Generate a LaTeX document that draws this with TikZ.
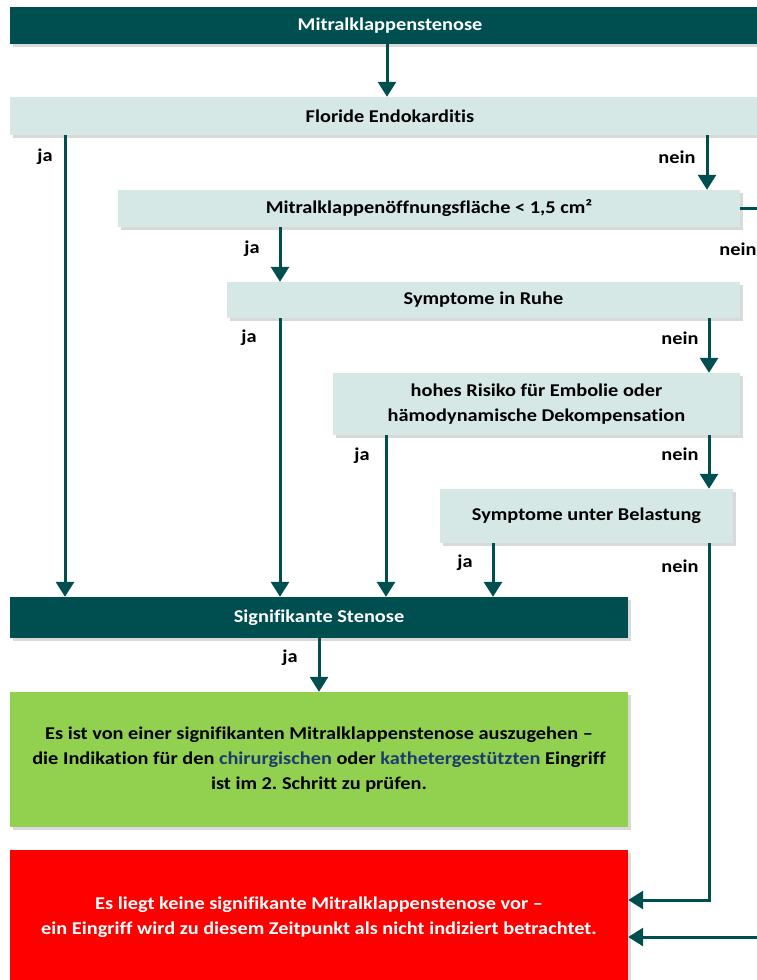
\documentclass[tikz,border=0pt]{standalone}
\usepackage{fontspec}
\setmainfont{Carlito}[FakeStretch=1.13, Ligatures=NoCommon]
\usetikzlibrary{positioning}
\usetikzlibrary{arrows.meta}
\usetikzlibrary{shadows}
\definecolor{dunkelgruen}{HTML}{004F50}
\definecolor{hellgrau}{HTML}{D5E8E6}
\definecolor{hellgruen}{HTML}{92D050}
\definecolor{signalrot}{HTML}{FF0000}
\definecolor{linkblau}{HTML}{1F3A6E}
\frenchspacing

\begin{document}
\begin{tikzpicture}
            [
                x=1pt, y=-1pt,
                box/.style={rectangle, inner sep=0pt, align=center, font=\fontsize{18}{25}\selectfont\bfseries,
                            drop shadow={shadow xshift=3pt, shadow yshift=-3pt, opacity=0.3}},
                dunkel/.style={box, fill=dunkelgruen, text=white},
                hell/.style={box, fill=hellgrau},
                answer/.style={inner sep=0pt, font=\fontsize{18}{20}\selectfont\bfseries},
                conn/.style={draw=dunkelgruen, line width=3pt, -{Triangle[width=18pt, length=15pt]}},
                line/.style={draw=dunkelgruen, line width=3pt}
            ]
            \useasboundingbox (0,0) rectangle (757,980);
            \clip (0,0) rectangle (757,980);
            %nodes
            \node[dunkel, minimum width=760pt, minimum height=37pt] at (390,25.5)   (start)    {Mitralklappenstenose};
            \node[hell,   minimum width=760pt, minimum height=38pt] at (390,116)    (floride)  {Floride Endokarditis};
            \node[hell,   minimum width=622pt, minimum height=37pt] at (429,208.5)  (flaeche)  {Mitralklappenöffnungsfläche < 1,5 cm²};
            \node[hell,   minimum width=513pt, minimum height=36pt] at (483.5,300)  (ruhe)     {Symptome in Ruhe};
            \node[hell,   minimum width=407pt, minimum height=62pt] at (536.5,404)  (risiko)   {hohes Risiko für Embolie oder\\hämodynamische Dekompensation};
            \node[hell,   minimum width=293pt, minimum height=54pt] at (586.5,516)  (belastung){Symptome unter Belastung};
            \node[dunkel, minimum width=618pt, minimum height=41pt] at (319,617.5)  (stenose)  {Signifikante Stenose};
            \node[box, fill=hellgruen, minimum width=618pt, minimum height=135pt] at (319,759.5) (indiziert)
                {Es ist von einer signifikanten Mitralklappenstenose auszugehen --\\die Indikation für den {\color{linkblau}chirurgischen} oder {\color{linkblau}kathetergestützten} Eingriff\\ist im 2. Schritt zu prüfen.};
            \node[box, fill=signalrot, text=white, minimum width=618pt, minimum height=135pt] at (319,917.5) (nicht)
                {Es liegt keine signifikante Mitralklappenstenose vor --\\ein Eingriff wird zu diesem Zeitpunkt als nicht indiziert betrachtet.};
            %columns
            \coordinate (c_start)  at (387,0);
            \coordinate (c_ja1)    at (65,0);
            \coordinate (c_nein1)  at (707,0);
            \coordinate (c_ja2)    at (280,0);
            \coordinate (c_nein2)  at (709,0);
            \coordinate (c_ja3)    at (386,0);
            \coordinate (c_ja4)    at (493,0);
            \coordinate (c_sig)    at (319,0);
            \coordinate (c_rand)   at (775,0);
            \coordinate (r_nein5)  at (0,900);
            \coordinate (r_rand)   at (0,937);
            %labels
            \node[answer] at (45,157)  (ja1)   {ja};
            \node[answer] at (677,157) (nein1) {nein};
            \node[answer] at (252,249) (ja2)   {ja};
            \node[answer] at (738,249) (nein2) {nein};
            \node[answer] at (249,338) (ja3)   {ja};
            \node[answer] at (680,338) (nein3) {nein};
            \node[answer] at (362,456) (ja4)   {ja};
            \node[answer] at (680,454) (nein4) {nein};
            \node[answer] at (465,563) (ja5)   {ja};
            \node[answer] at (680,566) (nein5) {nein};
            \node[answer] at (290,658) (ja6)   {ja};
            %arrows
            \draw[conn] (start.south -| c_start) -- (floride.north -| c_start);
            \draw[conn] (floride.south -| c_ja1) -- (stenose.north -| c_ja1);
            \draw[conn] (floride.south -| c_nein1) -- (flaeche.north -| c_nein1);
            \draw[conn] (flaeche.south -| c_ja2) -- (ruhe.north -| c_ja2);
            \draw[conn] (ruhe.south -| c_ja2) -- (stenose.north -| c_ja2);
            \draw[conn] (ruhe.south -| c_nein2) -- (risiko.north -| c_nein2);
            \draw[conn] (risiko.south -| c_ja3) -- (stenose.north -| c_ja3);
            \draw[conn] (risiko.south -| c_nein2) -- (belastung.north -| c_nein2);
            \draw[conn] (belastung.south -| c_ja4) -- (stenose.north -| c_ja4);
            \draw[conn] (stenose.south -| c_sig) -- (indiziert.north -| c_sig);
            \draw[conn] (belastung.south -| c_nein2) -- (c_nein2 |- r_nein5) -- (nicht.east |- r_nein5);
            \draw[conn] (flaeche.east) -- (flaeche.east -| c_rand) -- (c_rand |- r_rand) -- (nicht.east |- r_rand);
        \end{tikzpicture}
\end{document}
